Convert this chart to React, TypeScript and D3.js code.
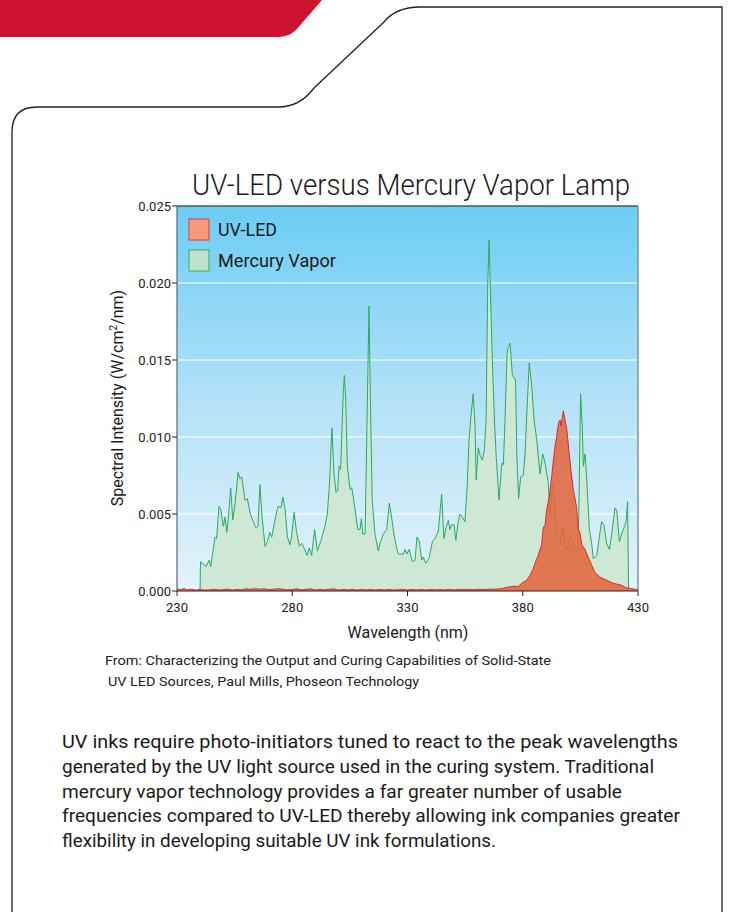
import React from "react";
import * as d3 from "d3";

const xTicks = [230, 280, 330, 380, 430];
const yTicks = [0, 0.005, 0.01, 0.015, 0.02, 0.025];
const seriesNames = ["UV-LED", "Mercury Vapor"];

const hgWavelength = [
  240.0, 240.2, 242.6, 244.0, 244.6, 245.5, 246.5, 247.2, 248.2, 249.0, 250.1, 250.8, 251.6, 252.3,
  253.3, 254.2, 255.2, 256.5, 257.3, 258.1, 259.5, 260.5, 261.7, 262.8, 264.3, 265.1, 266.0, 266.9,
  268.2, 269.2, 270.3, 271.1, 273.0, 273.9, 275.1, 275.9, 276.9, 277.9, 279.0, 279.7, 280.8, 281.9,
  283.1, 284.1, 285.1, 286.5, 287.4, 288.4, 289.7, 290.9, 292.3, 294.2, 295.2, 296.1, 297.2, 298.1,
  299.0, 299.7, 300.3, 301.0, 302.1, 302.6, 303.2, 303.9, 305.1, 305.8, 306.5, 307.7, 308.4, 309.4,
  310.0, 310.6, 311.6, 312.6, 313.3, 313.9, 314.7, 315.9, 317.3, 318.1, 319.5, 321.0, 322.1, 323.1,
  324.1, 325.0, 326.0, 328.2, 328.9, 329.7, 330.7, 332.1, 333.3, 334.1, 335.0, 336.2, 336.9, 337.9,
  339.3, 340.8, 341.9, 343.4, 344.8, 345.8, 346.7, 347.7, 348.4, 349.2, 350.2, 351.0, 352.0, 352.8,
  353.8, 354.9, 355.9, 356.7, 357.5, 358.5, 359.3, 359.8, 360.7, 361.5, 362.5, 363.3, 364.1, 364.8,
  365.4, 365.9, 366.8, 367.7, 368.5, 369.7, 370.9, 371.6, 372.3, 373.2, 373.7, 374.5, 375.5, 376.9,
  377.4, 378.2, 379.1, 380.2, 381.0, 381.7, 382.8, 383.9, 384.9, 386.0, 387.5, 388.7, 389.7, 391.1,
  391.8, 393.0, 394.0, 395.0, 396.2, 397.3, 398.3, 399.3, 400.5, 401.7, 402.7, 403.7, 404.3, 405.1,
  405.8, 406.3, 407.0, 407.7, 408.9, 409.9, 410.6, 412.1, 413.2, 414.2, 415.2, 416.4, 417.6, 418.6,
  420.0, 420.8, 421.9, 422.9, 423.9, 424.8, 425.5, 425.9,
];
const hgIntensity = [
  0, 0.0019, 0.0016, 0.002, 0.0016, 0.0025, 0.0035, 0.0034, 0.0055, 0.0053, 0.0042, 0.0048, 0.0038, 0.0048,
  0.0067, 0.0046, 0.0057, 0.0077, 0.0073, 0.0074, 0.0059, 0.006, 0.0051, 0.0046, 0.0041, 0.0042, 0.0069, 0.0048,
  0.0029, 0.0032, 0.0038, 0.0035, 0.005, 0.0055, 0.0054, 0.0061, 0.0053, 0.0035, 0.003, 0.0035, 0.0051, 0.0038,
  0.0029, 0.0031, 0.0028, 0.0023, 0.0028, 0.0023, 0.004, 0.0026, 0.0032, 0.0042, 0.005, 0.0068, 0.0106, 0.0076,
  0.0064, 0.0065, 0.0081, 0.0079, 0.0128, 0.014, 0.0124, 0.0081, 0.0066, 0.0067, 0.0061, 0.0048, 0.004, 0.004,
  0.0047, 0.0037, 0.0037, 0.0124, 0.0185, 0.0124, 0.0059, 0.0037, 0.0026, 0.0031, 0.0037, 0.004, 0.0057, 0.0048,
  0.0037, 0.003, 0.0024, 0.0024, 0.0027, 0.0024, 0.0027, 0.0019, 0.002, 0.0035, 0.0033, 0.002, 0.0022, 0.0018,
  0.0021, 0.0032, 0.0034, 0.0039, 0.0063, 0.0034, 0.0041, 0.0046, 0.004, 0.0043, 0.0043, 0.0033, 0.0045, 0.005,
  0.0048, 0.0045, 0.0068, 0.0098, 0.0113, 0.0128, 0.0107, 0.0072, 0.0093, 0.0088, 0.0085, 0.0091, 0.0111, 0.0198,
  0.0228, 0.0198, 0.015, 0.0111, 0.0087, 0.0059, 0.0083, 0.0082, 0.0111, 0.0154, 0.0158, 0.0161, 0.014, 0.0137,
  0.009, 0.006, 0.0074, 0.0075, 0.0089, 0.0113, 0.0148, 0.0133, 0.0111, 0.0099, 0.0076, 0.0089, 0.0083, 0.007,
  0.005, 0.007, 0.0055, 0.0033, 0.0031, 0.0043, 0.0029, 0.0027, 0.0035, 0.0032, 0.0026, 0.0024, 0.0048, 0.0128,
  0.0107, 0.0081, 0.0089, 0.0074, 0.004, 0.0031, 0.0021, 0.0023, 0.0035, 0.0045, 0.0043, 0.0031, 0.0027, 0.0037,
  0.0054, 0.0052, 0.0032, 0.0037, 0.0041, 0.0045, 0.0058, 0,
];

const ledWavelength = [
  230, 231.5, 233, 234.5, 236, 238, 240, 242, 244, 246, 248, 250, 252, 254, 256, 258, 260, 262, 264, 266,
  268, 270, 272, 274, 276, 278, 280, 282, 284, 286, 288, 290, 292, 294, 296, 298, 300, 302, 304, 306,
  308, 310, 312, 314, 316, 318, 320, 322, 324, 326, 328, 330, 332, 334, 336, 338, 340, 342, 344, 346,
  348, 350, 352, 354, 356, 358, 360, 362, 364, 366, 368, 370, 372.3, 375.3, 378.1, 379.5, 381.7, 383.1,
  384.4, 385.3, 386.7, 388.2, 388.9, 389.7, 390.4, 391.5, 392.6, 393.3, 394.0, 394.7, 395.5, 396.2, 396.6,
  397.1, 397.6, 398.3, 399.1, 400.1, 400.8, 401.9, 403.4, 404.1, 404.8, 405.6, 407.0, 409.2, 411.3, 413.5,
  416.4, 419.3, 422.2, 425.1, 429.4, 430,
];
const ledIntensity = [
  0.00014, 0.00008, 0.00016, 0.00007, 0.00012, 0.00006, 0.0001, 0.00006, 0.00007, 0.00011, 0.00006, 0.00008, 0.00012, 0.00006,
  0.0001, 0.00007, 0.00014, 0.00011, 0.00015, 0.00012, 0.00014, 0.00008, 0.00012, 0.00015, 0.00011, 0.00007, 0.0001, 0.00014,
  0.00007, 0.00011, 0.00014, 0.00006, 0.0001, 0.00007, 0.00011, 0.00014, 0.00006, 0.0001, 0.00007, 0.00011, 0.00006, 0.0001,
  0.00007, 0.0001, 0.00006, 0.0001, 0.00007, 0.0001, 0.00006, 0.00008, 0.0001, 0.00006, 0.0001, 0.00007, 0.0001, 0.00006,
  0.0001, 0.00007, 0.0001, 0.00007, 0.0001, 0.00007, 0.0001, 0.00008, 0.0001, 0.00008, 0.0001, 0.00011, 0.00009, 0.00012,
  0.00012, 0.00014, 0.0002, 0.0003, 0.0003, 0.0005, 0.0007, 0.001, 0.0014, 0.0018, 0.0023, 0.003, 0.0041, 0.0043,
  0.0053, 0.0061, 0.0075, 0.0085, 0.0094, 0.01, 0.0109, 0.0111, 0.0107, 0.0112, 0.0117, 0.0111, 0.0105, 0.009,
  0.008, 0.0066, 0.0054, 0.004, 0.0038, 0.003, 0.0027, 0.0019, 0.0012, 0.0009, 0.0007, 0.0005, 0.0004, 0.0002,
  0.0001, 0.0001,
];

const titleText = "UV-LED versus Mercury Vapor Lamp";
const xAxisTitle = "Wavelength (nm)";
const sourceLines = [
  "From: Characterizing the Output and Curing Capabilities of Solid-State",
  " UV LED Sources, Paul Mills, Phoseon Technology",
];
const bodyLines = [
  "UV inks require photo-initiators tuned to react to the peak wavelengths",
  "generated by the UV light source used in the curing system. Traditional",
  "mercury vapor technology provides a far greater number of usable",
  "frequencies compared to UV-LED thereby allowing ink companies greater",
  "flexibility in developing suitable UV ink formulations.",
];

const FONT = "Roboto, 'Liberation Sans', Arial, sans-serif";

export default function App() {
  const left = 177, right = 638, top = 206, bottom = 591;
  const x = d3.scaleLinear().domain([230, 430]).range([left, right]);
  const y = d3.scaleLinear().domain([0, 0.025]).range([bottom, top]);

  const hg: [number, number][] = hgWavelength.map((w, i) => [w, hgIntensity[i]]);
  const led: [number, number][] = ledWavelength.map((w, i) => [w, ledIntensity[i]]);

  const area = d3
    .area<[number, number]>()
    .x((d) => x(d[0]))
    .y0(y(0))
    .y1((d) => y(d[1]));
  const line = d3
    .line<[number, number]>()
    .x((d) => x(d[0]))
    .y((d) => y(d[1]));

  const bodyWidths = [616, 592, 560, 618, 434];
  const sourceWidths = [446, 311];

  return (
    <svg
      width={730}
      height={912}
      style={{ position: "absolute", left: 0, top: 0, display: "block", background: "#fff" }}
      fontFamily={FONT}
    >
      <defs>
        <linearGradient id="bg" x1="0" y1="0" x2="0" y2="1">
          <stop offset="0" stopColor="#6bcdf4" />
          <stop offset="0.5" stopColor="#b3e1f7" />
          <stop offset="1" stopColor="#e3f3fb" />
        </linearGradient>
        <clipPath id="plotclip">
          <rect x={left} y={top} width={right - left} height={bottom - top} />
        </clipPath>
      </defs>

      {/* decorations */}
      <path d="M0,0 L322,0 L296,30 Q289,37 278,37 L0,37 Z" fill="#ce1330" />
      <path
        d="M12,912 L12,132 Q12,107 37,107 L278,107 Q300,107 314,88 L384,22 Q396,7 420,7 L722,7 L722,912"
        fill="none"
        stroke="#222"
        strokeWidth={1.3}
      />

      {/* title */}
      <text x={411} y={195} textAnchor="middle" fontSize={29} fontWeight={300} fill="#1a1a1a" textLength={438} lengthAdjust="spacingAndGlyphs">
        {titleText}
      </text>

      {/* plot background */}
      <rect x={left} y={top} width={right - left} height={bottom - top} fill="url(#bg)" />
      {yTicks.slice(1, -1).map((t) => (
        <line key={t} x1={left} x2={right} y1={y(t)} y2={y(t)} stroke="#fff" strokeWidth={1.2} />
      ))}

      <g clipPath="url(#plotclip)">
        <path d={area(hg) || ""} fill="#cfe7d5" />
        <path d={line(hg) || ""} fill="none" stroke="#27ab5e" strokeWidth={1} />
        <path d={area(led) || ""} fill="#e2683f" fillOpacity={0.88} />
        <path d={line(led) || ""} fill="none" stroke="#e8232b" strokeWidth={1} />
      </g>

      {/* frame */}
      <line x1={left} x2={right} y1={top} y2={top} stroke="#3f5a6c" strokeWidth={1.3} />
      <line x1={right} x2={right} y1={top} y2={bottom} stroke="#6f8a99" strokeWidth={1.3} />
      <line x1={left} x2={left} y1={top} y2={bottom} stroke="#5c7686" strokeWidth={1.3} />
      <line x1={left} x2={right} y1={bottom} y2={bottom} stroke="#222" strokeWidth={1.2} />

      {/* y ticks */}
      {yTicks.map((t) => (
        <g key={t}>
          <line x1={left - 5} x2={left} y1={y(t)} y2={y(t)} stroke="#222" strokeWidth={1} />
          <text x={left - 6} y={y(t)} dy="0.35em" textAnchor="end" fontSize={13} fill="#222">
            {d3.format(".3f")(t)}
          </text>
        </g>
      ))}
      {/* x ticks */}
      {xTicks.map((t) => (
        <g key={t}>
          <line x1={x(t)} x2={x(t)} y1={bottom} y2={bottom + 5} stroke="#222" strokeWidth={1} />
          <text x={x(t)} y={612} textAnchor="middle" fontSize={13} fill="#222">
            {t}
          </text>
        </g>
      ))}

      <text x={408} y={638} textAnchor="middle" fontSize={16} fill="#1a1a1a">
        {xAxisTitle}
      </text>
      <text
        transform="translate(123,398) rotate(-90)"
        textAnchor="middle"
        fontSize={16}
        fill="#1a1a1a"
      >
        Spectral Intensity (W/cm
        <tspan fontSize={10} dy={-6}>2</tspan>
        <tspan dy={6}>/nm)</tspan>
      </text>

      {/* legend */}
      <rect x={189} y={219} width={20} height={21} fill="#f69a7b" stroke="#e0383a" strokeWidth={1} />
      <text x={218} y={236} fontSize={18} fill="#1a1a1a" textLength={59} lengthAdjust="spacingAndGlyphs">
        {seriesNames[0]}
      </text>
      <rect x={189} y={250} width={20} height={21} fill="#bfe2c9" stroke="#2fb168" strokeWidth={1} />
      <text x={218} y={267} fontSize={18} fill="#1a1a1a" textLength={118} lengthAdjust="spacingAndGlyphs">
        {seriesNames[1]}
      </text>

      {/* source */}
      {sourceLines.map((s, i) => (
        <text
          key={i}
          x={i === 0 ? 105 : 108}
          y={665 + i * 21}
          fontSize={13}
          fill="#222"
          textLength={sourceWidths[i]}
          lengthAdjust="spacingAndGlyphs"
        >
          {s.trim()}
        </text>
      ))}

      {/* body */}
      {bodyLines.map((s, i) => (
        <text
          key={i}
          x={62}
          y={748 + i * 24.8}
          fontSize={19}
          fill="#1a1a1a"
          textLength={bodyWidths[i]}
          lengthAdjust="spacingAndGlyphs"
        >
          {s}
        </text>
      ))}
    </svg>
  );
}
